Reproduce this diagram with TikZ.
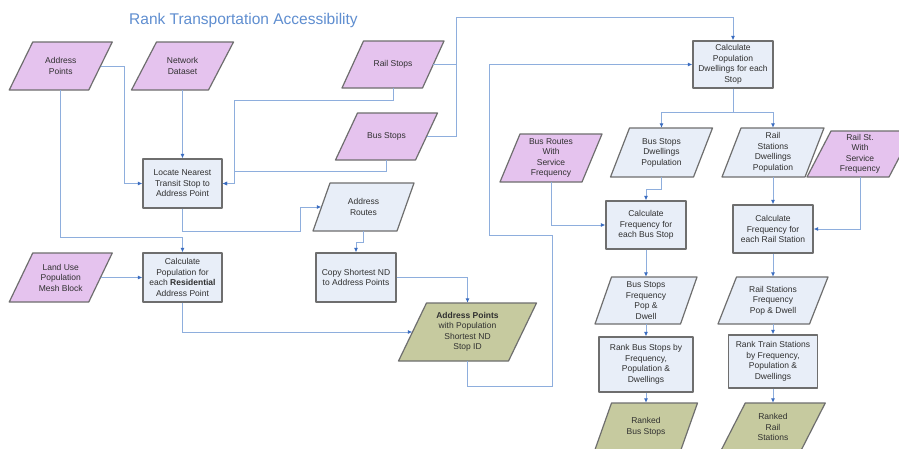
\documentclass[tikz,border=0pt]{standalone}
\usepackage{fontspec}
\setmainfont{Liberation Sans}
\usetikzlibrary{arrows.meta,calc}
\definecolor{pinkF}{HTML}{E5C3EE}
\definecolor{blueF}{HTML}{E8EEF8}
\definecolor{greenF}{HTML}{C6CA9F}
\definecolor{borderC}{HTML}{6E6E6E}
\definecolor{lineC}{HTML}{8EAEDD}
\definecolor{tipC}{HTML}{3A6CC0}
\definecolor{textC}{HTML}{303030}
\definecolor{titleC}{HTML}{5F8ED0}
\tikzset{
  shapeline/.style={draw=borderC, line width=1.2pt, line join=round},
  pinkshape/.style={shapeline, fill=pinkF},
  blueshape/.style={shapeline, fill=blueF},
  greenshape/.style={shapeline, fill=greenF},
  txt/.style={inner sep=0pt, align=center, font=\fontsize{8.5}{10.5}\selectfont, text=textC},
  procbox/.style={txt, blueshape, rectangle, minimum width=80pt, minimum height=48pt},
  conn/.style={draw=lineC, line width=0.9pt, -{Latex[length=4.5pt,width=4pt,color=tipC]}},
  plainconn/.style={draw=lineC, line width=0.9pt},
  titletxt/.style={inner sep=0pt, font=\fontsize{15.5}{18}\selectfont, text=titleC}
}
% #1 name, #2 style, #3 cx, #4 cy, #5 side width, #6 height, #7 slant, #8 text
\newcommand\pgram[8]{%
  \path[#2] ({#3-#5/2+#7/2},{#4-#6/2}) -- ({#3+#5/2+#7/2},{#4-#6/2}) --
    ({#3+#5/2-#7/2},{#4+#6/2}) -- ({#3-#5/2-#7/2},{#4+#6/2}) -- cycle;
  \node[txt, minimum width=#5pt, minimum height=#6pt] (#1) at (#3,#4) {#8};
}
\begin{document}
\begin{tikzpicture}[x=1pt,y=-1pt]
\useasboundingbox (0,0) rectangle (899,448);
\fill[white] (0,0) rectangle (899,448);

\node[titletxt, anchor=base west] (title) at (129,24) {Rank Transportation Accessibility};

% input / data shapes
\pgram{ap}{pinkshape}{60.75}{66}{79.5}{48}{23.5}{Address\\Points}
\pgram{nd}{pinkshape}{182.5}{66}{77}{48}{25}{Network\\Dataset}
\pgram{rs}{pinkshape}{393}{64.5}{80.5}{47}{21.5}{Rail Stops}
\pgram{bs}{pinkshape}{386.5}{136.5}{80}{47}{22}{Bus Stops}
\pgram{ar}{blueshape}{363.5}{207}{84}{48}{17}{Address\\Routes}
\pgram{lu}{pinkshape}{60.75}{277.5}{79.5}{49}{23.5}{Land Use\\Population\\Mesh Block}
\pgram{gr}{greenshape}{467.5}{332}{110}{58}{28}{\textbf{Address Points}\\with Population\\Shortest ND\\Stop ID}
\pgram{br}{pinkshape}{551}{158}{82}{48}{20}{Bus Routes\\With\\Service\\Frequency}
\pgram{bsd}{blueshape}{661.5}{152.5}{83}{49}{19}{Bus Stops\\Dwellings\\Population}
\pgram{rsd}{blueshape}{773}{152.5}{83}{49}{19}{Rail\\Stations\\Dwellings\\Population}
\pgram{rsf}{pinkshape}{860}{154}{82}{46}{24}{Rail St.\\With\\Service\\Frequency}
\pgram{bsf}{blueshape}{646}{300.5}{85.5}{47}{16.5}{Bus Stops\\Frequency\\Pop \&\\Dwell}
\pgram{rsfp}{blueshape}{773}{300.5}{91.5}{47}{18.5}{Rail Stations\\Frequency\\Pop \& Dwell}
\pgram{rbs}{greenshape}{646}{427}{86}{48}{17}{Ranked\\Bus Stops}
\pgram{rrs}{greenshape}{773}{427}{80}{48}{24.5}{Ranked\\Rail\\Stations}

% process boxes
\node[procbox, minimum width=79pt, minimum height=49pt] (loc) at (182.5,183.5) {Locate Nearest\\Transit Stop to\\Address Point};
\node[procbox, minimum width=79pt, minimum height=49pt] (cp) at (182.5,277.5) {Calculate\\Population for\\each \textbf{Residential}\\Address Point};
\node[procbox, minimum width=80pt, minimum height=49pt] (copy) at (356,277.5) {Copy Shortest ND\\to Address Points};
\node[procbox, minimum width=80pt, minimum height=47pt] (cpd) at (733,64.5) {Calculate\\Population\\Dwellings for each\\Stop};
\node[procbox, minimum width=80pt, minimum height=48pt] (cfb) at (646,225) {Calculate\\Frequency for\\each Bus Stop};
\node[procbox, minimum width=80pt, minimum height=48pt] (cfr) at (773,229) {Calculate\\Frequency for\\each Rail Station};
\node[procbox, minimum width=94pt, minimum height=55pt] (rb) at (646,364.5) {Rank Bus Stops by\\Frequency,\\Population \&\\Dwellings};
\node[procbox, minimum width=89pt, minimum height=53pt] (rt) at (773,361.5) {Rank Train Stations\\by Frequency,\\Population \&\\Dwellings};

% helper coordinates
\coordinate (topbend) at (456,17);
\coordinate (g1) at (552,386);
\coordinate (g2) at (489,235);
\coordinate (r1) at (300,231);

% connectors
\draw[conn] (ap.east) -- ++(23.5,0) |- (loc.west);
\draw[conn] (nd.south) -- (loc.north);
\draw[conn] (rs.south) -- ++(0,12) -| ([xshift=12pt]loc.east) -- (loc.east);
\draw[conn] (bs.south) -- ++(0,11) -| ([xshift=12pt]loc.east) -- (loc.east);
\draw[conn] (rs.east) -| (topbend) -| (cpd.north);
\draw[plainconn] (bs.east) -| (topbend);
\draw[conn] (gr.south) |- (g1) |- (g2) |- (cpd.west);
\draw[conn] (loc.south) |- (r1) |- (ar.west);
\draw[conn] (ar.south) -- ++(0,11) -| (copy.north);
\draw[conn] (ap.south) |- ([yshift=15pt]cp.north) -- (cp.north);
\draw[conn] (lu.east) -- (cp.west);
\draw[conn] (cp.south) |- (gr.west);
\draw[conn] (copy.east) -| (gr.north);
\draw[conn] (cpd.south) -- ++(0,23.5) -| (bsd.north);
\draw[conn] (cpd.south) -- ++(0,23.5) -| (rsd.north);
\draw[conn] (br.south) |- (cfb.west);
\draw[conn] (bsd.south) -- ++(0,12) -| (cfb.north);
\draw[conn] (rsd.south) -- (cfr.north);
\draw[conn] (rsf.south) |- (cfr.east);
\draw[conn] (cfb.south) -- (bsf.north);
\draw[conn] (bsf.south) -- (rb.north);
\draw[conn] (rb.south) -- (rbs.north);
\draw[conn] (cfr.south) -- (rsfp.north);
\draw[conn] (rsfp.south) -- (rt.north);
\draw[conn] (rt.south) -- (rrs.north);
\end{tikzpicture}
\end{document}
